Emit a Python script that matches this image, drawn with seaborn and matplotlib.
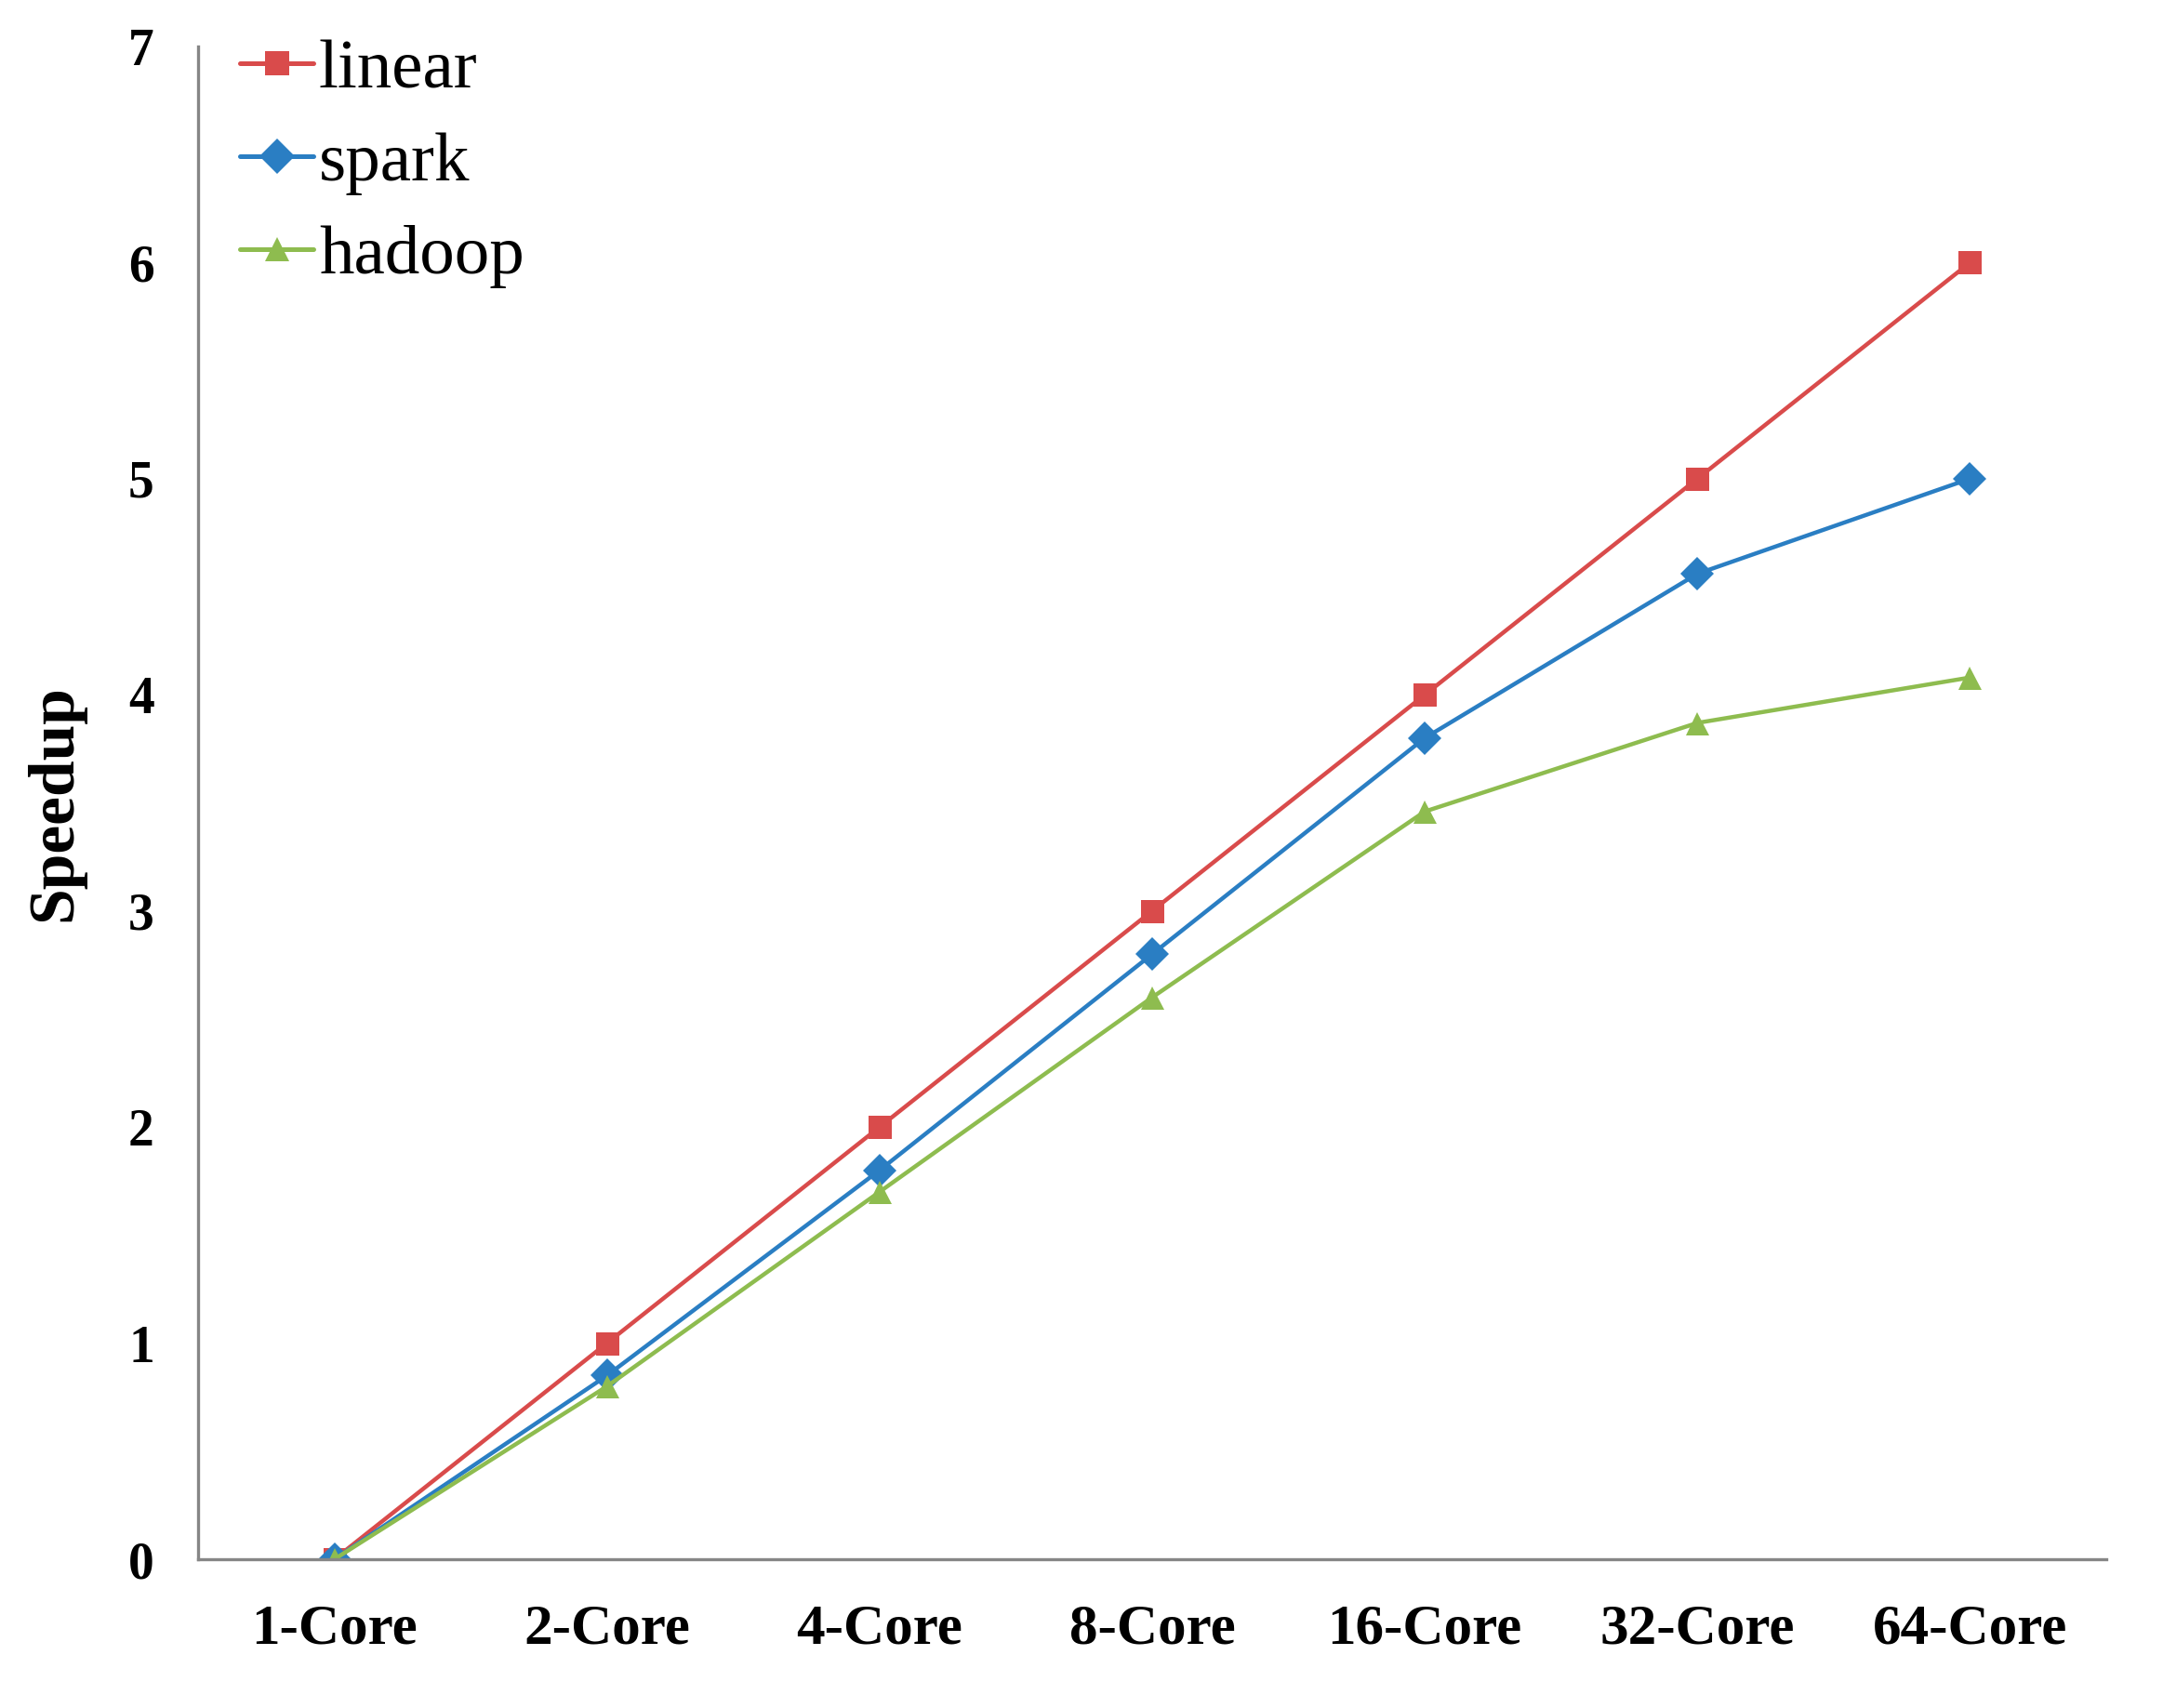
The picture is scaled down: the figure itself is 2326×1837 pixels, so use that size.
import numpy as np
import pandas as pd
import matplotlib
matplotlib.use("Agg")
import matplotlib.pyplot as plt
import seaborn as sns

categories = ["1-Core", "2-Core", "4-Core", "8-Core", "16-Core", "32-Core", "64-Core"]
linear = [0, 1, 2, 3, 4, 5, 6]
spark = [0, 0.85, 1.80, 2.80, 3.80, 4.56, 5.00]
hadoop = [0, 0.80, 1.70, 2.60, 3.46, 3.87, 4.08]
series_names = ["linear", "spark", "hadoop"]
y_ticks = [0, 1, 2, 3, 4, 5, 6, 7]

sns.set_theme(style="white")
plt.rcParams['font.family'] = ['Liberation Serif', 'DejaVu Serif']
plt.rcParams['text.color'] = 'black'
plt.rcParams['axes.labelcolor'] = 'black'
plt.rcParams['xtick.color'] = 'black'
plt.rcParams['ytick.color'] = 'black'

df = pd.DataFrame({
    "core": categories * 3,
    "speedup": linear + spark + hadoop,
    "series": [s for s in series_names for _ in categories],
})

palette = {"linear": "#D94B4B", "spark": "#2A7EC3", "hadoop": "#8EBC4F"}
markers = {"linear": "s", "spark": "D", "hadoop": "^"}

fig = plt.figure(figsize=(23.26, 18.37), dpi=100)
ax = fig.add_axes([213 / 2326, 1 - 1677 / 1837, (2265 - 213) / 2326, (1677 - 50) / 1837])

sns.lineplot(data=df, x="core", y="speedup", hue="series", style="series",
             palette=palette, markers=markers, dashes=False, sort=False,
             linewidth=3.2, markersize=18, markeredgewidth=0, ax=ax)

ax.set_xlim(-0.5, 6.5)
ax.set_ylim(0, 7)
ax.set_yticks(y_ticks)
ax.set_xticks(range(len(categories)))
ax.set_xticklabels(categories)
ax.tick_params(axis='both', length=0, labelsize=40)
ax.tick_params(axis='x', labelsize=44, pad=34)
ax.tick_params(axis='y', pad=34)
for lab in ax.get_xticklabels() + ax.get_yticklabels():
    lab.set_fontweight('bold')
    lab.set_color('black')
ax.set_xlabel("")
ax.set_ylabel("Speedup", fontsize=50, fontweight='bold', labelpad=34, color='black')

for side in ["top", "right"]:
    ax.spines[side].set_visible(False)
for side in ["left", "bottom"]:
    ax.spines[side].set_color("#868686")
    ax.spines[side].set_linewidth(2.4)
ax.grid(False)

leg = ax.legend(loc="upper left", bbox_to_anchor=(0.022, 1.005), frameon=False,
                fontsize=54, handlelength=1.05, handletextpad=0.08,
                labelspacing=0.42, borderpad=0.0, borderaxespad=0.0)
for h in leg.legend_handles:
    h.set_markersize(19)
    h.set_linewidth(3.6)
for t in leg.get_texts():
    t.set_color('black')

fig.savefig("out.png", dpi=100, facecolor="white")
